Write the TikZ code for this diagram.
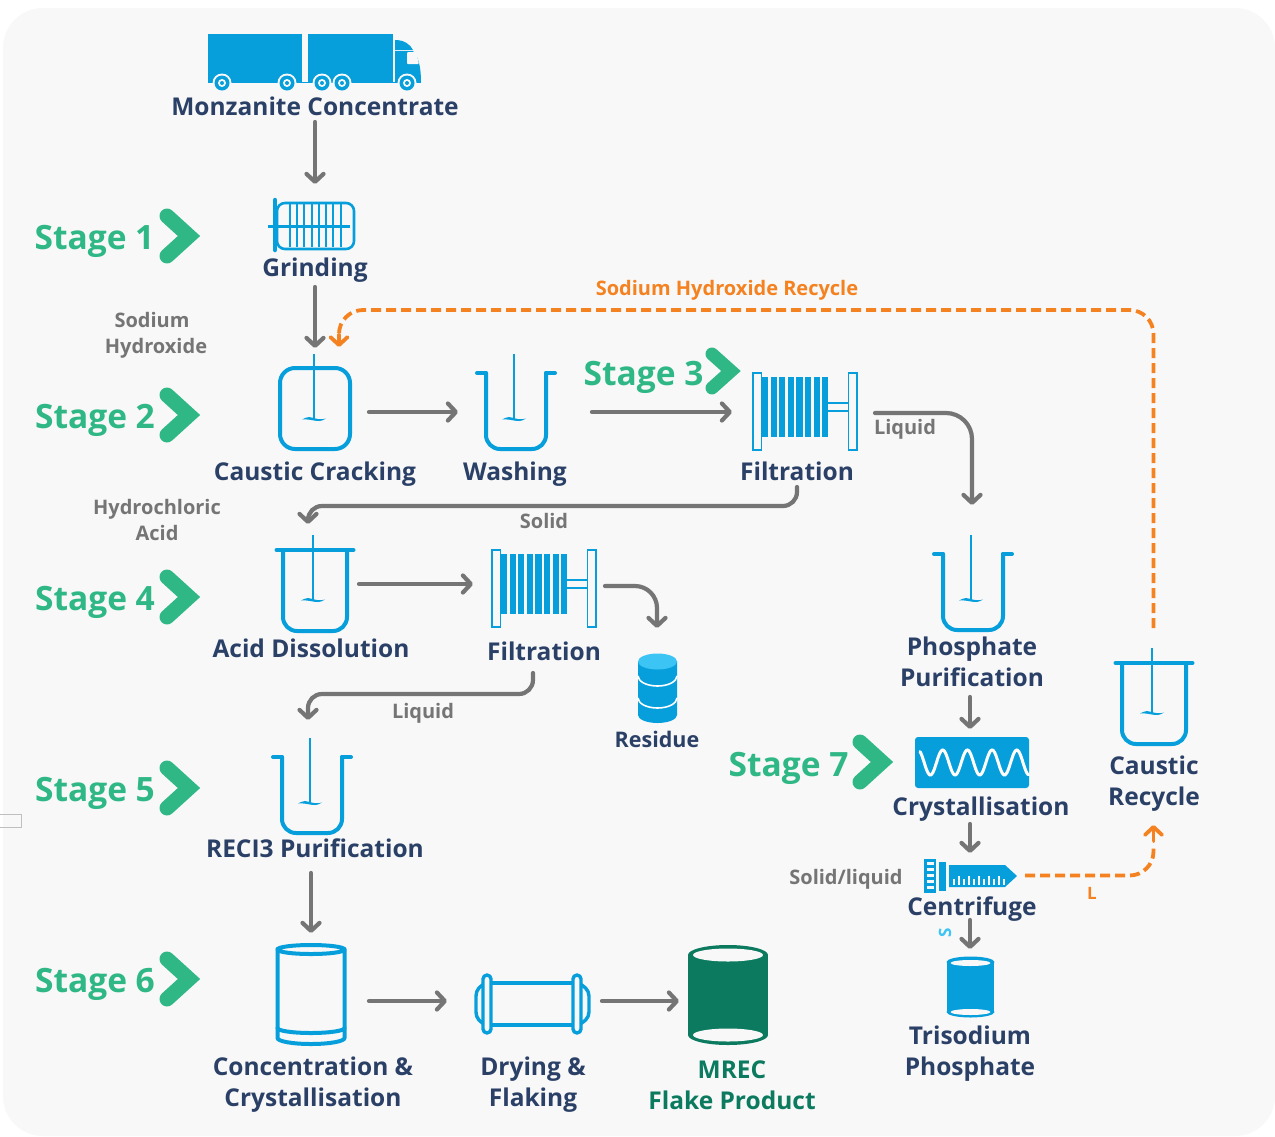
\documentclass[tikz,border=0pt]{standalone}
\usepackage{fontspec}
\setmainfont{Open Sans}
\usetikzlibrary{arrows.meta}
\definecolor{bgc}{HTML}{F8F8F9}
\definecolor{blu}{HTML}{069FDB}
\definecolor{lblu}{HTML}{3CC4F5}
\definecolor{gry}{HTML}{757575}
\definecolor{org}{HTML}{F58220}
\definecolor{grn}{HTML}{2FB886}
\definecolor{navy}{HTML}{2B4066}
\definecolor{dgrn}{HTML}{0B7A5E}
\tikzset{
  flow/.style={draw=gry,line width=4.2pt,line cap=round,-{Straight Barb[length=8pt,width=17pt,round]}},
  recycle/.style={draw=org,line width=3.8pt,dash pattern=on 10pt off 5pt},
  recycletip/.style={draw=org,line width=3.8pt,line cap=round,-{Straight Barb[length=8pt,width=17pt,round]}},
  lab/.style={font=\fontsize{24.5}{31}\selectfont\bfseries,text=navy,align=center,inner sep=0pt},
  glab/.style={font=\fontsize{20}{26}\selectfont\bfseries,text=gry,align=center,inner sep=0pt},
  stg/.style={font=\fontsize{33.5}{40}\selectfont\bfseries,text=grn,inner sep=0pt},
  chev/.style={draw=grn,line width=15pt,line cap=round,miter limit=10},
  outl/.style={draw=blu,line width=4pt,line cap=round,line join=round},
  thin/.style={draw=blu,line width=2.6pt},
}
\newcommand{\agit}[2]{% shaft x, top y
  \draw[draw=blu,line width=2.4pt] (#1,#2) -- (#1,#2+65);
  \fill[blu] (#1-12,#2+65.5) .. controls (#1-6,#2+62) and (#1-3,#2+63) .. (#1,#2+64)
     .. controls (#1+3,#2+65) and (#1+7,#2+66) .. (#1+12,#2+64.5)
     .. controls (#1+7,#2+68) and (#1+3,#2+67) .. (#1,#2+66.5)
     .. controls (#1-3,#2+66) and (#1-7,#2+65) .. (#1-12,#2+65.5) -- cycle;}
\newcommand{\openvessel}[2]{% left x, flange y
  \draw[outl] (#1+1,#2) -- (#1+10,#2) (#1+70,#2) -- (#1+79,#2);
  \draw[outl,rounded corners=14pt] (#1+10,#2) -- (#1+10,#2+76) -- (#1+70,#2+76) -- (#1+70,#2);
  \agit{#1+38}{#2-19}}
\newcommand{\closedvessel}[2]{% left x, bar y
  \draw[outl] (#1+1.5,#2) -- (#1+78.5,#2);
  \draw[outl,rounded corners=14pt] (#1+8,#2) -- (#1+8,#2+81) -- (#1+72,#2+81) -- (#1+72,#2);
  \agit{#1+38}{#2-15}}
\newcommand{\filterpress}[2]{% top-left of left plate
  \draw[thin,line width=1.8pt] (#1,#2) rectangle (#1+8.5,#2+77);
  \draw[thin,line width=1.8pt] (#1+95.5,#2) rectangle (#1+104,#2+77);
  \foreach \i in {0,...,7}{\fill[blu] (#1+9+8.6*\i,#2+4) rectangle (#1+15.2+8.6*\i,#2+64);}
  \draw[thin,line width=1.8pt] (#1+74,#2+30) rectangle (#1+95.5,#2+38);}
\newcommand{\mychev}[2]{\draw[chev] (#1-22,#2-20) -- (#1,#2) -- (#1-22,#2+20);}
\begin{document}
\begin{tikzpicture}[x=1pt,y=-1pt]
\useasboundingbox (0,0) rectangle (1275,1136);
\fill[white] (0,0) rectangle (1275,1136);
\fill[bgc,rounded corners=40pt] (3,8) rectangle (1275,1136);
\draw[draw=black!25,line width=1pt] (21,814) -- (0,814) (0,827) -- (21,827) -- (21,814);
% truck
\fill[blu] (208,34) rectangle (302,82);
\fill[blu] (308,34) rectangle (393,82);
\fill[blu] (395,40) .. controls (404,40) and (410,44) .. (413,50) -- (395,50) -- cycle;
\fill[blu] (395,51) -- (413,51) .. controls (418,56) and (421,66) .. (421,82) -- (395,82) -- cycle;
\fill[bgc,rounded corners=1pt] (407,52) -- (416,52) -- (419,64) -- (407,64) -- cycle;
\draw[draw=blu,line width=1.5pt] (208,82.5) -- (421,82.5);
\foreach \wx in {222,287,322,342,407}{
  \fill[bgc] (\wx,83) circle[radius=9.5];
  \fill[blu] (\wx,83) circle[radius=7.5];
  \fill[bgc] (\wx,83) circle[radius=4];
  \fill[blu] (\wx,83) circle[radius=2];}
% grinder
\draw[thin] (277,203) [rounded corners=8pt] rectangle (354,249);
\foreach \gx in {290,297,304,312,319,326,333,341}{\draw[thin] (\gx,204) -- (\gx,247);}
\draw[thin,line width=3pt] (268,226) -- (350,226);
\draw[thin,line width=4.5pt,line cap=round] (275,200) -- (275,250);
% caustic cracking vessel
\draw[outl,rounded corners=15pt] (280,368) rectangle (350,449);
\agit{314}{354}
% other vessels
\openvessel{476}{373}
\openvessel{933}{554}
\openvessel{272}{757}
\closedvessel{275}{550}
\closedvessel{1114}{663}
\filterpress{753}{373}
\filterpress{492}{550}
% residue
\fill[blu] (638,661) -- (638,715) arc[x radius=19.5,y radius=8,start angle=180,end angle=0] -- (677,661) -- cycle;
\fill[lblu] (657.5,661.5) ellipse[x radius=19.5,y radius=8];
\draw[draw=white,line width=1.6pt] (638,676) arc[x radius=19.5,y radius=10,start angle=180,end angle=0];
\draw[draw=white,line width=1.6pt] (638,698) arc[x radius=19.5,y radius=10,start angle=180,end angle=0];
% crystalliser
\fill[blu,rounded corners=3pt] (915,737) rectangle (1029,788);
\draw[draw=white,line width=3pt,line cap=round] plot[domain=920:1028.5,samples=120,smooth] (\x,{762.5-12.5*cos((\x-942.7)/24.7*360)});
% centrifuge
\fill[blu] (924,859) rectangle (936,893);
\foreach \cy in {862,868,874,880,886}{\fill[bgc] (926.5,\cy) rectangle (933.5,\cy+3.2);}
\fill[blu] (939,862) rectangle (946,891);
\fill[blu] (949,865) -- (1005,865) -- (1017,876) -- (1005,887) -- (949,887) -- cycle;
\foreach \bx/\bh in {953/6,958/9,963/6,968/9,973/6,978/9,983/6,988/9,993/6,998/9,1003/6}{\fill[bgc] (\bx,885) rectangle (\bx+2.4,885-\bh);}
% trisodium
\fill[blu] (947,963) rectangle (994,1012);
\fill[blu] (970.5,962) ellipse[x radius=24,y radius=5.5];
\fill[blu] (970.5,1012) ellipse[x radius=24,y radius=5.5];
\fill[bgc] (970.5,963) ellipse[x radius=20,y radius=3];
\fill[bgc] (970.5,1012) ellipse[x radius=20,y radius=3];
% concentration vessel
\draw[outl] (277.5,949) -- (277.5,1038) arc[x radius=33.5,y radius=6,start angle=180,end angle=0] -- (344.5,949);
\draw[outl] (311,949.5) ellipse[x radius=33.5,y radius=4.5];
\draw[outl] (277.5,1028) arc[x radius=33.5,y radius=5,start angle=180,end angle=0];
% dryer
\draw[outl,line width=3.4pt] (487,983) -- (577,983) (487,1025) -- (577,1025);
\draw[outl,line width=3.4pt] (487,983) .. controls (480,985) and (476,990) .. (476,996) -- (476,1012) .. controls (476,1018) and (480,1023) .. (487,1025);
\draw[outl,line width=3.4pt] (577,983) .. controls (584,985) and (589,990) .. (589,996) -- (589,1012) .. controls (589,1018) and (584,1023) .. (577,1025);
\draw[outl,line width=3.4pt,fill=bgc,rounded corners=4pt] (483,975) rectangle (491,1033);
\draw[outl,line width=3.4pt,fill=bgc,rounded corners=4pt] (573,975) rectangle (581,1033);
% MREC
\fill[dgrn] (688,955) rectangle (768,1035);
\fill[dgrn] (728,955) ellipse[x radius=40,y radius=10];
\fill[dgrn] (728,1035) ellipse[x radius=40,y radius=10];
\fill[bgc] (728,955) ellipse[x radius=35,y radius=6.5];
\fill[bgc] (728,1035) ellipse[x radius=35,y radius=6.5];
% stage chevrons
\mychev{189}{236}
\mychev{189}{415}
\mychev{189}{597}
\mychev{189}{788}
\mychev{189}{979}
\mychev{882}{762}
\draw[chev,line width=13pt] (712,354) -- (731,371) -- (712,388);
% stage labels
\node[stg] (s1) at (94.5,241) {Stage 1};
\node[stg] (s2) at (95,420) {Stage 2};
\node[stg] (s3) at (643.5,377) {Stage 3};
\node[stg] (s4) at (95,602) {Stage 4};
\node[stg] (s5) at (95,793) {Stage 5};
\node[stg] (s6) at (95,984) {Stage 6};
\node[stg] (s7) at (788.5,768) {Stage 7};
% labels
\node[lab] (mon) at (315,106) {Monzanite Concentrate};
\node[lab] (gri) at (315,270) {Grinding};
\node[lab] (cau) at (315,474) {Caustic Cracking};
\node[lab] (was) at (515,474) {Washing};
\node[lab] (fil) at (797,471) {Filtration};
\node[lab] (aci) at (311,648) {Acid Dissolution};
\node[lab] (fi2) at (544,651) {Filtration};
\node[lab] (pho) at (972,662) {Phosphate\\Purification};
\node[lab] (rec) at (1154,784) {Caustic\\Recycle};
\node[lab] (cry) at (981,809) {Crystallisation};
\node[lab] (cen) at (972,909) {Centrifuge};
\node[lab] (tri) at (970,1054) {Trisodium\\Phosphate};
\node[lab] (rcl) at (315,848) {RECI3 Purification};
\node[lab] (con) at (313,1085) {Concentration \&\\Crystallisation};
\node[lab] (dry) at (533,1085) {Drying \&\\Flaking};
\node[lab,text=dgrn] (mre) at (732,1085) {MREC\\Flake Product};
\node[lab,font=\fontsize{21.5}{28}\selectfont\bfseries] (res) at (657,739) {Residue};
\node[glab] (sod) at (156,335) {\hspace*{-8pt}Sodium\\Hydroxide};
\node[glab] (hyd) at (157,520) {Hydrochloric\\Acid};
\node[glab] (liq) at (905,429) {Liquid};
\node[glab] (sol) at (544,521) {Solid};
\node[glab] (li2) at (423,713) {Liquid};
\node[glab] (sl) at (846,879) {Solid/liquid};
\node[glab,text=org] (shr) at (727,290) {Sodium Hydroxide Recycle};
\node[glab,text=org,font=\fontsize{17}{20}\selectfont\bfseries] (ll) at (1092,893) {L};
\node[glab,text=lblu,font=\fontsize{17}{20}\selectfont\bfseries,rotate=90] (ss) at (945,933) {S};
% connector ends
\coordinate (a1) at (315,122); \coordinate (b1) at (315,184);
\coordinate (a2) at (315,287); \coordinate (b2) at (315,348);
\coordinate (a3) at (369,412); \coordinate (b3) at (458,412);
\coordinate (a4) at (592,412); \coordinate (b4) at (732,412);
\coordinate (a5) at (875,413); \coordinate (m5) at (972,413); \coordinate (b5) at (972,505);
\coordinate (a6) at (797,487); \coordinate (m6) at (797,506); \coordinate (n6) at (308,506); \coordinate (b6) at (308,524);
\coordinate (a7) at (359,584); \coordinate (b7) at (473,584);
\coordinate (a8) at (605,586); \coordinate (m8) at (657,586); \coordinate (b8) at (657,628);
\coordinate (a9) at (533,673); \coordinate (m9) at (533,694); \coordinate (n9) at (308,694); \coordinate (b9) at (308,720);
\coordinate (a10) at (311,873); \coordinate (b10) at (311,933);
\coordinate (a11) at (369,1001); \coordinate (b11) at (447,1001);
\coordinate (a12) at (602,1001); \coordinate (b12) at (679,1001);
\coordinate (a13) at (970,697); \coordinate (b13) at (970,729);
\coordinate (a14) at (970,824); \coordinate (b14) at (970,853);
\coordinate (a15) at (970,920); \coordinate (b15) at (970,949);
\coordinate (r1) at (1153.5,628); \coordinate (r2) at (1153.5,310); \coordinate (r3) at (339,310); \coordinate (r5) at (339,335); \coordinate (r4) at (339,347);
\coordinate (c1) at (1025,875.5); \coordinate (c2) at (1153.5,875.5); \coordinate (c5) at (1153.5,846); \coordinate (c4) at (1153.5,841); \coordinate (c3) at (1153.5,825);
% connectors
\draw[flow] (a1) -- (b1);
\draw[flow] (a2) -- (b2);
\draw[flow] (a3) -- (b3);
\draw[flow] (a4) -- (b4);
\draw[flow,rounded corners=26pt] (a5) -- (m5) -- (b5);
\draw[flow,rounded corners=14pt] (a6) -- (m6) -- (n6) -- (b6);
\draw[flow] (a7) -- (b7);
\draw[flow,rounded corners=22pt] (a8) -- (m8) -- (b8);
\draw[flow,rounded corners=14pt] (a9) -- (m9) -- (n9) -- (b9);
\draw[flow] (a10) -- (b10);
\draw[flow] (a11) -- (b11);
\draw[flow] (a12) -- (b12);
\draw[flow] (a13) -- (b13);
\draw[flow] (a14) -- (b14);
\draw[flow] (a15) -- (b15);
\draw[recycle,rounded corners=24pt] (r1) -- (r2) -- (r3) -- (r5);
\draw[recycletip] (r5) -- (r4);
\draw[recycle,rounded corners=24pt] (c1) -- (c2) -- (c5);
\draw[recycletip] (c4) -- (c3);
\end{tikzpicture}
\end{document}
